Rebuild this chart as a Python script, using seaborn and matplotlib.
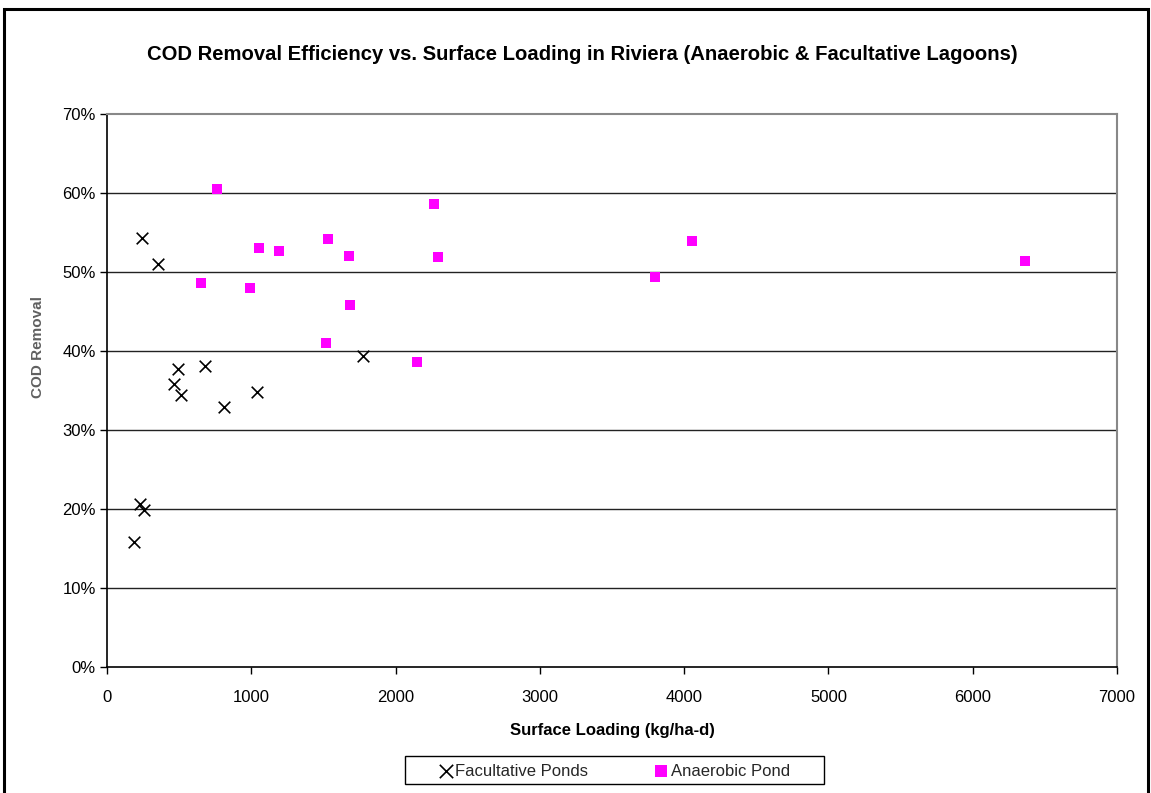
import matplotlib
matplotlib.use("Agg")
import matplotlib.pyplot as plt
import matplotlib.ticker as mticker
from matplotlib.patches import Rectangle
import seaborn as sns
import pandas as pd

fac_loading = [241, 352, 491, 676, 465, 512, 812, 1040, 1776, 229, 259, 190]
fac_removal = [0.543, 0.510, 0.377, 0.382, 0.358, 0.345, 0.329, 0.348, 0.394, 0.207, 0.199, 0.159]

ana_loading = [764, 651, 1051, 1194, 993, 1532, 1674, 1683, 1521, 2264, 2292, 2146, 3799, 4053, 6359]
ana_removal = [0.606, 0.487, 0.531, 0.527, 0.480, 0.542, 0.520, 0.459, 0.410, 0.586, 0.519, 0.386, 0.494, 0.540, 0.514]

x_ticks = [0, 1000, 2000, 3000, 4000, 5000, 6000, 7000]
y_ticks = [0, 0.1, 0.2, 0.3, 0.4, 0.5, 0.6, 0.7]

title = "COD Removal Efficiency vs. Surface Loading in Riviera (Anaerobic & Facultative Lagoons)"
x_label = "Surface Loading (kg/ha-d)"
y_label = "COD Removal"
fac_name = "Facultative Ponds"
ana_name = "Anaerobic Pond"

sns.set_theme(style="white")
plt.rcParams['font.family'] = ['Liberation Sans', 'DejaVu Sans']

fac_df = pd.DataFrame({"x": fac_loading, "y": fac_removal})
ana_df = pd.DataFrame({"x": ana_loading, "y": ana_removal})

W, H = 1151, 793
fig = plt.figure(figsize=(W / 100, H / 100), dpi=100)
ax = fig.add_axes([107 / W, 1 - 667.3 / H, (1117 - 107) / W, (667.3 - 114.3) / H])

# outer chart border
fig.patches.append(Rectangle((4 / W, -0.05), (1148 - 4) / W, 1 - 9 / H + 0.05,
                             transform=fig.transFigure, fill=False,
                             edgecolor='black', linewidth=2.2, zorder=0))
# legend box
fig.patches.append(Rectangle((405 / W, 1 - 784 / H), (824 - 405) / W, 28 / H,
                             transform=fig.transFigure, fill=False,
                             edgecolor='black', linewidth=1.0, zorder=5))

ax.set_xlim(0, 7000)
ax.set_ylim(0, 0.7)
ax.set_xticks(x_ticks)
ax.set_yticks(y_ticks)
ax.yaxis.set_major_formatter(mticker.PercentFormatter(1.0, decimals=0))
for yv in y_ticks[1:-1]:
    ax.axhline(yv, color='#222222', linewidth=1.0, zorder=1)

sns.scatterplot(data=fac_df, x="x", y="y", ax=ax, marker='x', s=70, color='black',
                linewidth=1.2, label=fac_name, zorder=3)
sns.scatterplot(data=ana_df, x="x", y="y", ax=ax, marker='s', s=52, color='#FF00FF',
                edgecolor='#FF00FF', linewidth=0, label=ana_name, zorder=3)

for side in ['left', 'bottom']:
    ax.spines[side].set_color('black')
    ax.spines[side].set_linewidth(1.2)
for side in ['top', 'right']:
    ax.spines[side].set_color('#888888')
    ax.spines[side].set_linewidth(1.5)

ax.tick_params(axis='both', direction='out', length=5, width=1, color='black',
               labelsize=12, labelcolor='black', left=True, bottom=True)
ax.tick_params(axis='x', pad=11)
ax.tick_params(axis='y', pad=3)

ax.set_xlabel(x_label, fontsize=12, fontweight='bold', color='black')
ax.xaxis.set_label_coords(0.5, (667.3 - 730) / 553)
ax.xaxis.label.set_va('center')
ax.set_ylabel(y_label, fontsize=11, fontweight='bold', color='#606060')
ax.yaxis.set_label_coords((38 - 107) / 1010, (667.3 - 347) / 553)
ax.yaxis.label.set_va('center')

fig.text(582.5 / W, 1 - 55 / H, title, ha='center', va='center',
         fontsize=14.6, fontweight='bold', color='black')

leg = ax.legend(loc='center', bbox_to_anchor=(614.5 / W, 1 - 771 / H),
                bbox_transform=fig.transFigure, ncol=2, frameon=False,
                fontsize=12, handletextpad=0.15, columnspacing=4.0,
                borderpad=0.0, handlelength=0.8, markerscale=1.15)

fig.savefig("out.png", dpi=100, facecolor='white')
